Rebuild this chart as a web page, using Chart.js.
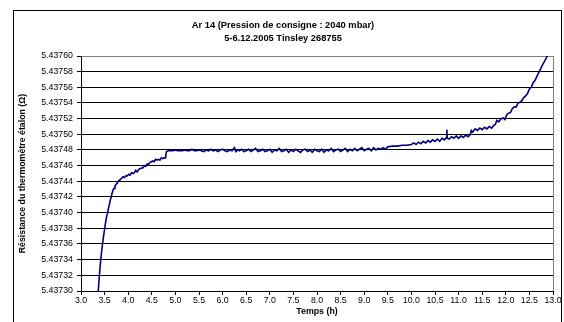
<!DOCTYPE html>
<html>
<head>
<meta charset="utf-8">
<script src="https://cdn.jsdelivr.net/npm/chart.js@4.4.0/dist/chart.umd.min.js"></script>
<style>
html,body{margin:0;padding:0;background:#fff;}
#wrap{width:564px;height:322px;}
</style>
</head>
<body>
<div id="wrap"><canvas id="c" width="564" height="322"></canvas></div>
<script>
const chartTitle = ["Ar 14 (Pression de consigne : 2040 mbar)", "5-6.12.2005 Tinsley 268755"];
const xAxisTitle = "Temps (h)";
const yAxisTitle = "Résistance du thermomètre étalon (Ω)";
const xTickValues = [3.0,3.5,4.0,4.5,5.0,5.5,6.0,6.5,7.0,7.5,8.0,8.5,9.0,9.5,10.0,10.5,11.0,11.5,12.0,12.5,13.0];
const yTickValues = [5.43730,5.43732,5.43734,5.43736,5.43738,5.43740,5.43742,5.43744,5.43746,5.43748,5.43750,5.43752,5.43754,5.43756,5.43758,5.43760];

const hours = [
3.36,3.38,3.40,3.42,3.44,3.46,3.48,3.50,3.52,3.54,3.56,3.58,3.60,3.62,3.64,3.66,3.68,3.70,3.72,3.74,
3.77,3.80,3.83,3.86,3.89,3.92,3.95,3.98,4.01,4.04,4.07,4.10,4.13,4.16,4.19,4.22,4.25,4.28,4.31,4.34,
4.37,4.40,4.43,4.46,4.49,4.52,4.55,4.58,4.61,4.64,4.67,4.70,4.73,4.76,4.79,4.81,4.85,
4.90,4.95,5.00,5.05,5.10,5.15,5.20,5.25,5.30,5.35,5.40,5.45,5.50,5.55,5.60,5.65,5.70,5.75,5.80,5.85,
5.90,5.95,6.00,6.05,6.10,6.15,6.20,6.25,6.28,6.32,6.36,6.40,6.45,6.50,6.55,6.60,6.65,6.70,6.75,6.80,
6.85,6.90,6.95,7.00,7.05,7.10,7.15,7.20,7.25,7.30,7.35,7.40,7.45,7.50,7.55,7.60,7.65,7.70,7.75,7.80,
7.85,7.90,7.95,8.00,8.05,8.10,8.15,8.20,8.25,8.30,8.35,8.40,8.45,8.50,8.55,8.60,8.65,8.70,8.75,8.80,
8.85,8.90,8.95,9.00,9.05,9.10,9.15,9.20,9.25,9.30,9.35,9.40,9.45,
9.50,9.60,9.70,9.80,9.90,10.00,10.05,10.10,10.15,10.20,10.25,10.30,10.35,10.40,10.45,10.50,10.55,10.60,10.65,10.70,
10.74,10.75,10.76,10.80,10.85,10.90,10.95,11.00,11.05,11.10,11.15,11.20,11.24,11.27,11.30,11.35,11.40,11.45,11.50,11.55,
11.60,11.65,11.70,11.74,11.78,11.81,11.85,11.90,11.95,11.98,12.02,12.06,12.10,12.14,12.18,12.22,12.26,12.30,12.34,12.38,
12.42,12.46,12.50,12.54,12.58,12.62,12.66,12.70,12.74,12.78,12.82,12.86,12.90
];
const ohms = [
5.437296,5.437312,5.437328,5.437341,5.437352,5.437362,5.437371,5.437379,5.437387,5.437394,5.437399,5.437405,5.437410,5.437416,5.437420,5.437425,5.437429,5.437431,5.437434,5.437436,
5.437438,5.437441,5.437442,5.437444,5.437446,5.437445,5.437447,5.437447,5.437449,5.437448,5.437451,5.437450,5.437451,5.437454,5.437452,5.437455,5.437456,5.437457,5.437457,5.437460,
5.437459,5.437462,5.437462,5.437464,5.437465,5.437466,5.437465,5.437468,5.437467,5.437468,5.437467,5.437470,5.437469,5.437470,5.437470,5.437478,5.437479,
5.437479,5.437479,5.437480,5.437479,5.437479,5.437479,5.437480,5.437479,5.437479,5.437481,5.437479,5.437479,5.437480,5.437479,5.437478,5.437480,5.437479,5.437481,5.437479,5.437480,
5.437478,5.437480,5.437481,5.437479,5.437478,5.437480,5.437479,5.437483,5.437478,5.437480,5.437479,5.437481,5.437478,5.437479,5.437481,5.437478,5.437480,5.437482,5.437478,5.437479,
5.437481,5.437478,5.437479,5.437481,5.437477,5.437480,5.437479,5.437482,5.437478,5.437479,5.437481,5.437477,5.437480,5.437478,5.437481,5.437479,5.437477,5.437480,5.437481,5.437478,
5.437480,5.437477,5.437481,5.437479,5.437478,5.437481,5.437477,5.437480,5.437479,5.437482,5.437478,5.437480,5.437481,5.437478,5.437480,5.437482,5.437478,5.437481,5.437479,5.437482,
5.437479,5.437481,5.437483,5.437479,5.437481,5.437482,5.437479,5.437483,5.437480,5.437482,5.437481,5.437483,5.437481,
5.437484,5.437485,5.437485,5.437486,5.437486,5.437487,5.437489,5.437487,5.437490,5.437488,5.437491,5.437489,5.437492,5.437490,5.437493,5.437491,5.437494,5.437491,5.437495,5.437493,
5.437496,5.437506,5.437495,5.437494,5.437497,5.437495,5.437498,5.437495,5.437498,5.437496,5.437499,5.437497,5.437499,5.437505,5.437503,5.437507,5.437505,5.437508,5.437506,5.437509,
5.437507,5.437510,5.437508,5.437511,5.437513,5.437518,5.437516,5.437520,5.437521,5.437519,5.437525,5.437527,5.437528,5.437533,5.437535,5.437535,5.437540,5.437541,5.437543,5.437547,
5.437549,5.437552,5.437558,5.437560,5.437566,5.437569,5.437574,5.437579,5.437584,5.437589,5.437593,5.437598,5.437602
];

const points = hours.map((h, i) => ({x: h, y: ohms[i]}));
const FONT = "'Liberation Sans', Arial, sans-serif";

const framePlugin = {
  id: 'frame',
  afterLayout(chart) {
    const tb = chart.titleBlock;
    if (tb) { tb.left += 6.5; tb.right += 6.5; }
  },
  beforeDraw(chart) {
    const ctx = chart.ctx;
    ctx.save();
    ctx.fillStyle = '#fff';
    ctx.fillRect(0, 0, chart.width, chart.height);
    ctx.strokeStyle = '#000';
    ctx.lineWidth = 1;
    ctx.strokeRect(13.5, 10.5, 548, 330);
    ctx.restore();
  },
  afterDraw(chart) {
    const a = chart.chartArea;
    const ctx = chart.ctx;
    ctx.save();
    ctx.strokeStyle = '#808080';
    ctx.lineWidth = 1;
    ctx.beginPath();
    ctx.moveTo(Math.round(a.right) + 0.5, a.top);
    ctx.lineTo(Math.round(a.right) + 0.5, a.bottom);
    ctx.stroke();
    ctx.restore();
  }
};

new Chart(document.getElementById('c'), {
  type: 'line',
  data: {
    datasets: [{
      data: points,
      borderColor: '#000080',
      borderWidth: 1.6,
      pointRadius: 0,
      tension: 0,
      fill: false
    }]
  },
  options: {
    responsive: false,
    animation: false,
    events: [],
    layout: { padding: { left: 0, right: 11, top: 0, bottom: 0 } },
    plugins: {
      legend: { display: false },
      tooltip: { enabled: false },
      title: {
        display: true,
        text: chartTitle,
        color: '#000',
        font: { family: FONT, size: 9.3, weight: 'bold', lineHeight: 1.5 },
        padding: { top: 18, bottom: 10.1 }
      }
    },
    scales: {
      x: {
        type: 'linear',
        min: 3.0,
        max: 13.0,
        afterBuildTicks: s => { s.ticks = xTickValues.map(v => ({value: v})); },
        afterFit: s => { s.height = 31; },
        ticks: {
          autoSkip: false,
          maxRotation: 0,
          minRotation: 0,
          padding: 0.5,
          color: '#000',
          font: { family: FONT, size: 8.8 },
          callback: v => Number(v).toFixed(1)
        },
        grid: { drawOnChartArea: false, drawTicks: true, tickLength: 4, color: '#000' },
        border: { display: true, color: '#000', width: 1 },
        title: {
          display: true,
          text: xAxisTitle,
          color: '#000',
          font: { family: FONT, size: 8.8, weight: 'bold', lineHeight: 1.2 },
          padding: { top: 0, bottom: 5 }
        }
      },
      y: {
        type: 'linear',
        min: 5.43730,
        max: 5.43760,
        afterBuildTicks: s => { s.ticks = yTickValues.map(v => ({value: v})); },
        afterFit: s => { s.width = 81; },
        ticks: {
          autoSkip: false,
          padding: 4,
          color: '#000',
          font: { family: FONT, size: 8.8 },
          callback: v => Number(v).toFixed(5)
        },
        grid: {
          drawTicks: true,
          tickLength: 4,
          color: c => (c.tick && Math.abs(c.tick.value - 5.43760) < 1e-9) ? '#808080' : '#000',
          tickColor: '#000',
          lineWidth: 1
        },
        border: { display: true, color: '#000', width: 1 },
        title: {
          display: true,
          text: yAxisTitle,
          color: '#000',
          font: { family: FONT, size: 8.8, weight: 'bold', lineHeight: 1.2 },
          padding: { top: 17, bottom: 0 }
        }
      }
    }
  },
  plugins: [framePlugin]
});
</script>
</body>
</html>
